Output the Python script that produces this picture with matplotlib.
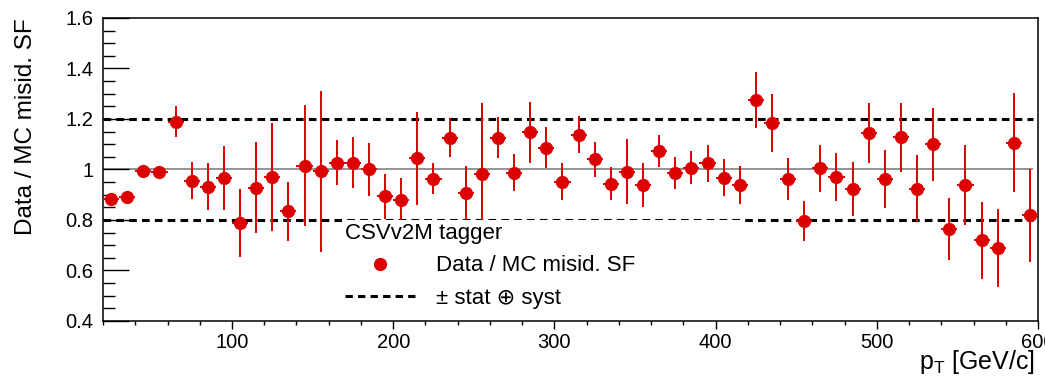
import matplotlib

matplotlib.use("Agg")
import matplotlib.pyplot as plt
from matplotlib.lines import Line2D
from matplotlib.ticker import MultipleLocator

plt.rcParams["font.family"] = ["Liberation Sans", "DejaVu Sans"]
plt.rcParams["mathtext.fontset"] = "custom"
plt.rcParams["mathtext.rm"] = "Liberation Sans"

# bin centres in GeV/c
pt = [25, 35, 45, 55, 65, 75, 85, 95, 105, 115,
      125, 135, 145, 155, 165, 175, 185, 195, 205, 215,
      225, 235, 245, 255, 265, 275, 285, 295, 305, 315,
      325, 335, 345, 355, 365, 375, 385, 395, 405, 415,
      425, 435, 445, 455, 465, 475, 485, 495, 505, 515,
      525, 535, 545, 555, 565, 575, 585, 595]
sf = [0.885, 0.890, 0.993, 0.990, 1.190, 0.955, 0.931, 0.967, 0.788, 0.927,
      0.971, 0.834, 1.015, 0.993, 1.027, 1.027, 1.000, 0.894, 0.881, 1.044,
      0.964, 1.126, 0.905, 0.984, 1.126, 0.987, 1.147, 1.087, 0.952, 1.137,
      1.040, 0.944, 0.991, 0.938, 1.073, 0.987, 1.007, 1.024, 0.968, 0.938,
      1.276, 1.183, 0.962, 0.795, 1.004, 0.971, 0.922, 1.146, 0.962, 1.127,
      0.924, 1.099, 0.765, 0.938, 0.719, 0.690, 1.106, 0.818]
sf_err = [0.012, 0.012, 0.015, 0.020, 0.063, 0.073, 0.093, 0.128, 0.133, 0.180,
          0.215, 0.118, 0.240, 0.318, 0.090, 0.100, 0.105, 0.090, 0.085, 0.184,
          0.060, 0.076, 0.110, 0.280, 0.080, 0.074, 0.122, 0.083, 0.073, 0.073,
          0.068, 0.064, 0.129, 0.086, 0.065, 0.064, 0.065, 0.072, 0.072, 0.076,
          0.110, 0.115, 0.084, 0.079, 0.094, 0.096, 0.107, 0.119, 0.116, 0.136,
          0.133, 0.144, 0.123, 0.159, 0.152, 0.154, 0.195, 0.185]
BIN_HALF_WIDTH = 5

UNC_BAND = (0.8, 1.2)
LINE_RANGE = (20, 597)

RED = "#dd0000"

fig = plt.figure(figsize=(10.45, 3.78), dpi=100)
ax = fig.add_axes([0.0986, 0.1508, 0.8947, 0.8016])

ax.hlines(1.0, *LINE_RANGE, color="#808080", linewidth=1.2, zorder=1)
for level in UNC_BAND:
    ax.plot(LINE_RANGE, [level, level], color="black", linewidth=2.2,
            dashes=(2.5, 1.7), zorder=1.5)

ax.errorbar(pt, sf, yerr=sf_err, xerr=BIN_HALF_WIDTH, fmt="o", color=RED,
            ecolor=RED, elinewidth=1.4, markersize=8.5, capsize=0, zorder=3)

ax.set_xlim(20, 600)
ax.set_ylim(0.4, 1.6)
ax.xaxis.set_major_locator(MultipleLocator(100))
ax.xaxis.set_minor_locator(MultipleLocator(20))
ax.yaxis.set_major_locator(MultipleLocator(0.2))
ax.yaxis.set_minor_locator(MultipleLocator(0.05))
ax.yaxis.set_major_formatter(lambda v, _p: f"{v:g}")
ax.tick_params(axis="y", which="major", direction="in", length=18.5, width=1.0,
               labelsize=14.5, pad=7)
ax.tick_params(axis="y", which="minor", direction="in", length=8.6, width=1.0)
ax.tick_params(axis="x", which="major", direction="out", length=5.8, width=1.0,
               labelsize=14.5, pad=3)
ax.tick_params(axis="x", which="minor", direction="out", length=3, width=1.0)
for spine in ax.spines.values():
    spine.set_linewidth(1.1)

ax.set_ylabel("Data / MC misid. SF", fontsize=17.5, loc="top")
ax.yaxis.label.set_verticalalignment("center")
ax.yaxis.set_label_coords(-0.082, 1.0)
ax.set_xlabel(r"p$_\mathregular{T}$ [GeV/c]", fontsize=18, loc="right")
ax.xaxis.set_label_coords(0.997, -0.088)

handles = [
    Line2D([], [], linestyle="none", marker="o", color=RED, markersize=8.5),
    Line2D([], [], color="black", linewidth=2.2, dashes=(2.4, 1.7)),
]
labels = ["Data / MC misid. SF", "\u00b1 stat \u2295 syst"]
leg = ax.legend(handles, labels, title="CSVv2M tagger", title_fontsize=16,
                fontsize=16, loc="upper left", mode="expand",
                bbox_to_anchor=(0.256, 0.0, 0.428, 0.333),
                handlelength=3.15, handletextpad=0.95, labelspacing=0.52,
                borderpad=0.12, borderaxespad=0.0, alignment="left",
                frameon=True, fancybox=False, framealpha=1.0)
leg.get_frame().set_edgecolor("none")
leg.get_frame().set_facecolor("white")

fig.savefig("out.png", dpi=100)
